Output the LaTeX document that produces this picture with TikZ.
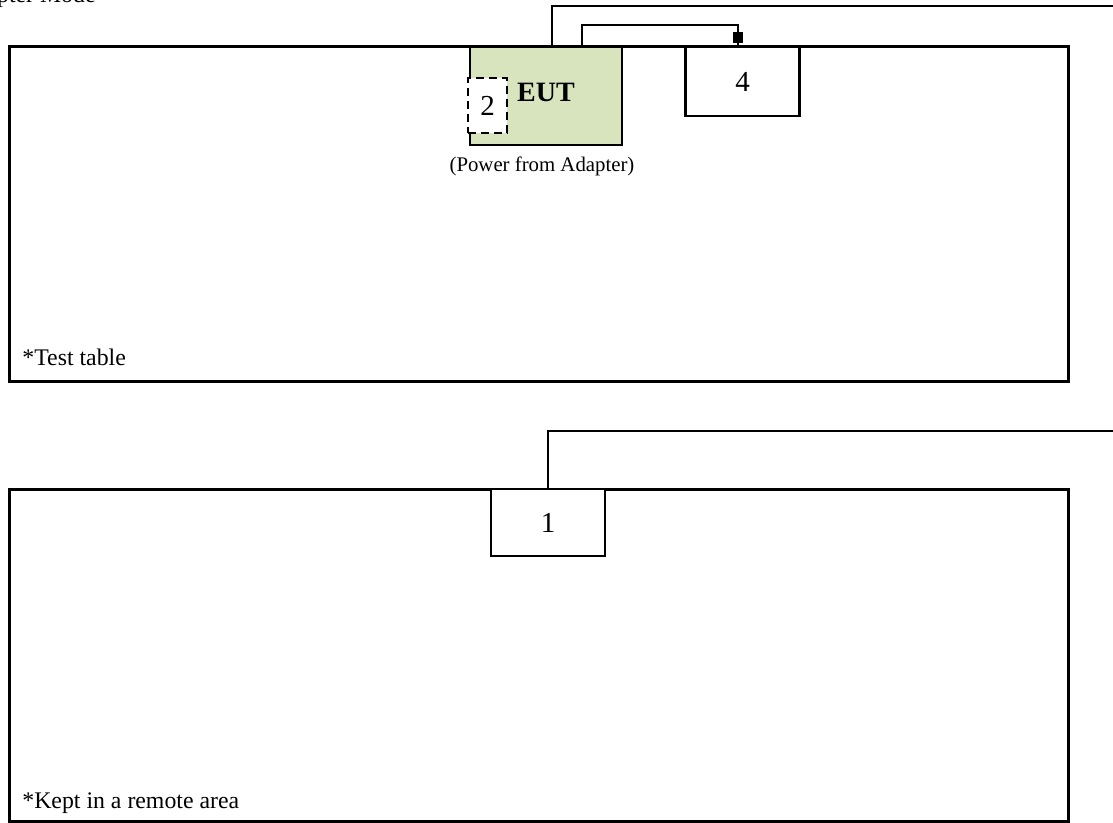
\documentclass[tikz,border=0pt]{standalone}
\usepackage{fontspec}
\setmainfont{Liberation Serif}
\usepackage{tikz}
\usetikzlibrary{backgrounds,positioning}
\definecolor{eutgreen}{HTML}{D7E4BD}
\pgfdeclarelayer{edgelayer}
\pgfdeclarelayer{nodelayer}
\pgfsetlayers{edgelayer,nodelayer,main}
\tikzstyle{none}=[inner sep=0pt]
\tikzstyle{testtable}=[rectangle,draw=black,line width=1.5pt,inner sep=0pt,minimum width=529.5pt]
\tikzstyle{eutbox}=[rectangle,fill=eutgreen,draw=black,line width=1.1pt,inner sep=0pt,minimum width=76pt,minimum height=49pt]
\tikzstyle{dashbox}=[rectangle,fill=white,draw=black,dash pattern=on 4pt off 2.5pt,line width=1.3pt,inner sep=0pt,minimum width=19.5pt,minimum height=27.5pt,font=\fontsize{14.5}{16}\selectfont]
\tikzstyle{device}=[rectangle,fill=white,draw=black,line width=1.1pt,inner sep=0pt,minimum width=57pt,minimum height=34.5pt,font=\fontsize{14.5}{16}\selectfont]
\tikzstyle{plug}=[rectangle,fill=black,draw=black,inner sep=0pt,minimum width=4.5pt,minimum height=5pt]
\tikzstyle{note}=[inner sep=0pt,font=\fontsize{11.9}{14}\selectfont]
\tikzstyle{cable}=[-,draw=black,line width=1pt]

\begin{document}
\begin{tikzpicture}[x=0.5pt,y=-0.5pt]
	\useasboundingbox (0,0) rectangle (1113,823);
	\begin{pgfonlayer}{nodelayer}
		\node [style=note,anchor=base east] (title) at (96,3) {Adapter Mode};

		\node [style=testtable,minimum height=167.5pt] (top) at (538.5,214.5) {};
		\node [style=note,anchor=west] (toplabel) at (22,357) {*Test table};

		\node [style=eutbox] (eut) at (546,96) {};
		\node [style=dashbox] (2) at (487.5,105.5) {2};
		\node [style=none,font=\fontsize{14}{16}\selectfont\bfseries] (eutlabel) at (546,92) {EUT};
		\node [style=none,font=\fontsize{10.4}{12}\selectfont] (power) at (542,166) {(Power from Adapter)};

		\node [style=device] (4) at (742.5,81.5) {4};
		\node [style=plug] (jack) at (738,37) {};

		\node [style=testtable,minimum height=166pt] (bottom) at (538.5,655) {};
		\node [style=note,anchor=west] (bottomlabel) at (22,803) {*Kept in a remote area};
		\node [style=device,minimum height=33.5pt] (1) at (548,522.5) {1};

		\coordinate (a1) at (552,6);
		\coordinate (a2) at (1113,6);
		\coordinate (b1) at (582,25);
		\coordinate (b2) at (738,25);
		\coordinate (c1) at (1113,431);
	\end{pgfonlayer}
	\begin{pgfonlayer}{edgelayer}
		\draw [style=cable] (eut.north -| a1) to (a1) to (a2);
		\draw [style=cable] (eut.north -| b1) to (b1) to (b2) to (jack.north);
		\draw [style=cable] (jack.south) to (4.north -| jack);
		\draw [style=cable] (1.north) |- (c1);
	\end{pgfonlayer}
\end{tikzpicture}
\end{document}
